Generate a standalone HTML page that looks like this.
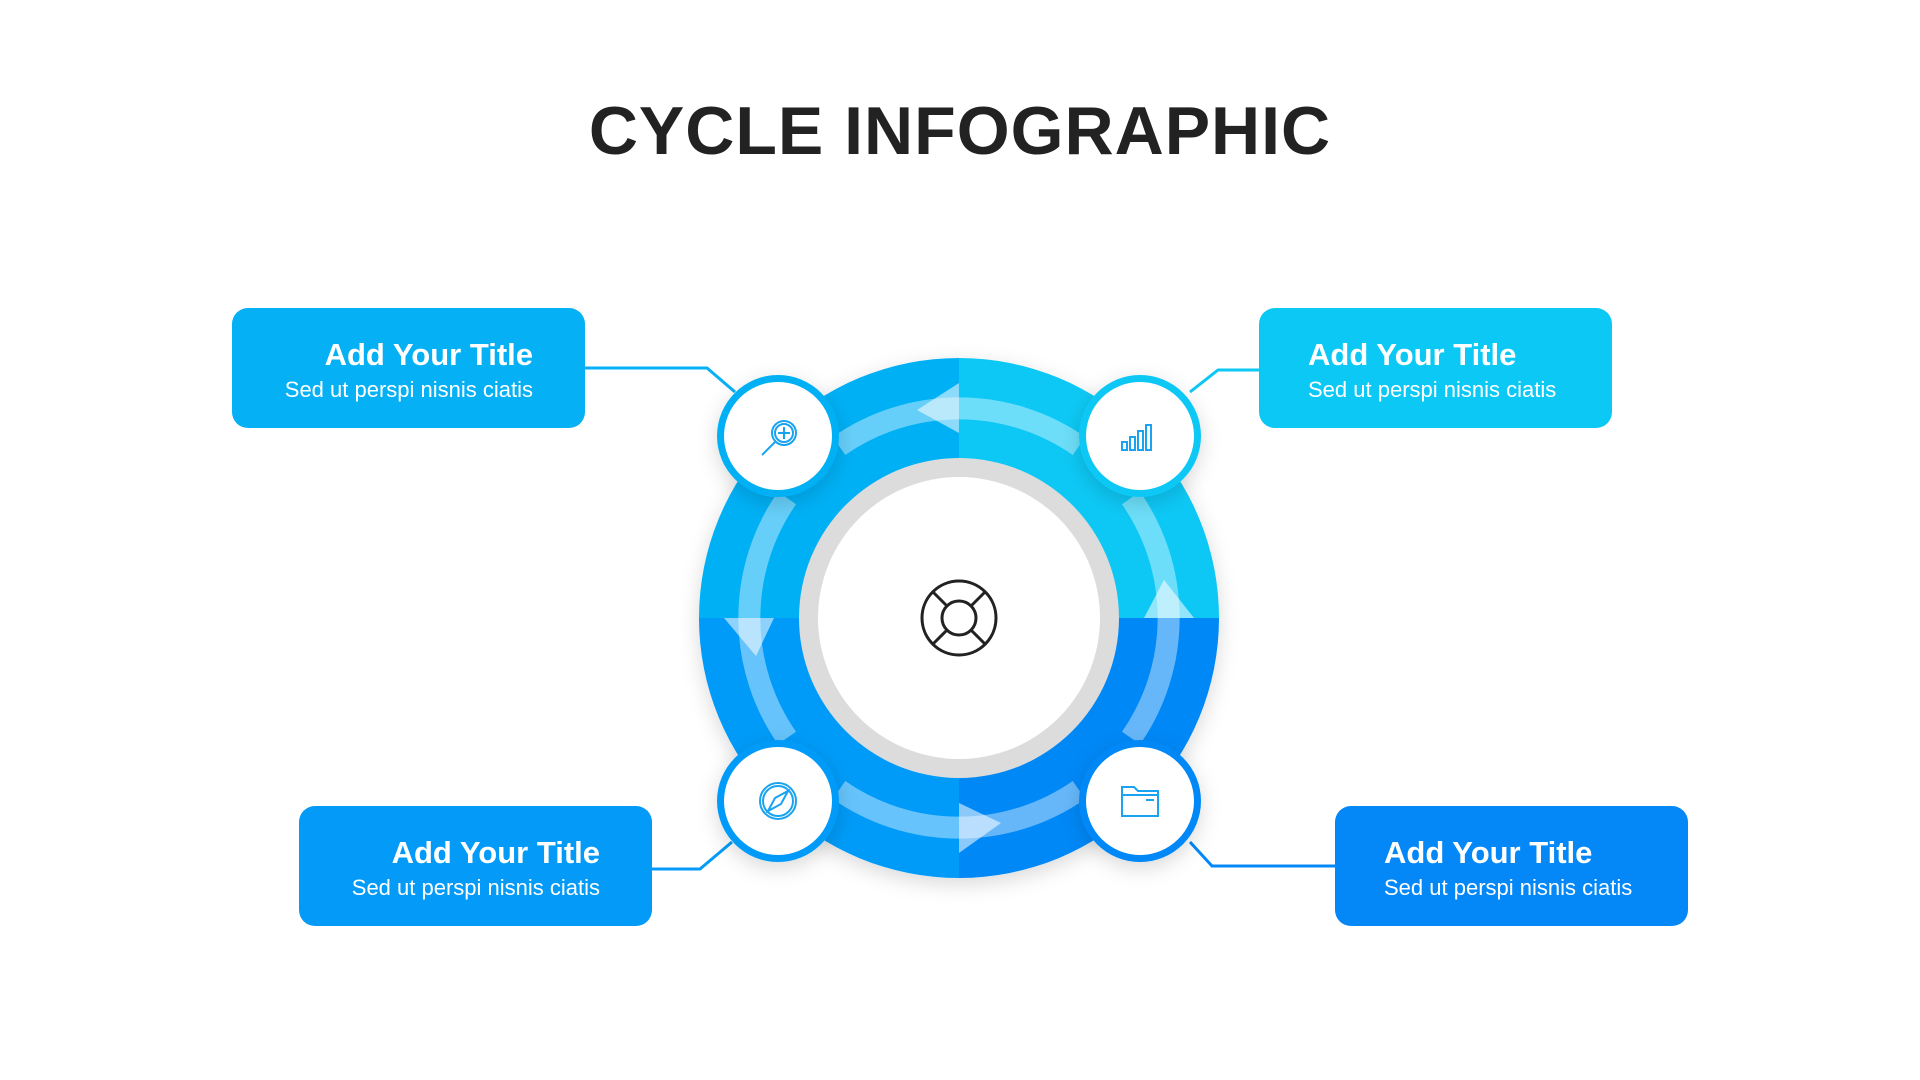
<!DOCTYPE html>
<html><head><meta charset="utf-8"><style>
body{margin:0;width:1920px;height:1080px;background:#fff;overflow:hidden;font-family:"Liberation Sans",sans-serif;position:relative}
h1{position:absolute;top:92px;left:0;width:1920px;text-align:center;margin:0;font-size:68px;font-weight:bold;color:#222;letter-spacing:1px}
.box{position:absolute;width:353px;height:120px;border-radius:16px;color:#fff}
.box b{position:absolute;top:29px;font-size:31px;white-space:nowrap}
.box span{position:absolute;top:69px;font-size:22px;white-space:nowrap}
.r b,.r span{right:52px}
.l b,.l span{left:49px}
</style></head><body>
<h1>CYCLE INFOGRAPHIC</h1>
<svg width="1920" height="1080" style="position:absolute;left:0;top:0">
<defs><filter id="sh" x="-20%" y="-20%" width="140%" height="140%"><feDropShadow dx="0" dy="6" stdDeviation="10" flood-color="#000" flood-opacity="0.15"/></filter></defs>
<g fill="none" stroke-width="3">
<polyline points="585,368 707,368 735,392" stroke="#05b0f5"/>
<polyline points="1190,392 1218,370 1259,370" stroke="#0cc8f5"/>
<polyline points="651,869 700,869 732,842" stroke="#049bf8"/>
<polyline points="1190,842 1212,866 1335,866" stroke="#0488f7"/>
</g>
<g filter="url(#sh)">
<path d="M959,618 L959,358 A260,260 0 0 0 699,618 Z" fill="#05b0f5"/>
<path d="M959,618 L1219,618 A260,260 0 0 0 959,358 Z" fill="#0cc8f5"/>
<path d="M959,618 L699,618 A260,260 0 0 0 959,878 Z" fill="#049bf8"/>
<path d="M959,618 L959,878 A260,260 0 0 0 1219,618 Z" fill="#0488f7"/>
</g>
<g fill="none" stroke="rgba(255,255,255,0.4)" stroke-width="22">
<path d="M1079,446 A210,210 0 0 0 839,446"/>
<path d="M787,498 A210,210 0 0 0 787,738"/>
<path d="M839,790 A210,210 0 0 0 1079,790"/>
<path d="M1131,738 A210,210 0 0 0 1131,498"/>
</g>
<g fill="rgba(255,255,255,0.55)">
<polygon points="959,383 959,433 917,410"/>
<polygon points="724,618 774,618 756,656"/>
<polygon points="959,803 959,853 1001,823"/>
<polygon points="1144,618 1194,618 1164,580"/>
</g>
<circle cx="959" cy="618" r="160" fill="#dcdcdc"/>
<circle cx="959" cy="618" r="141" fill="#fff"/>
<g fill="none" stroke="#222" stroke-width="3">
<circle cx="959" cy="618" r="37"/><circle cx="959" cy="618" r="17"/>
<line x1="947" y1="606" x2="933" y2="592"/><line x1="971" y1="606" x2="985" y2="592"/>
<line x1="947" y1="630" x2="933" y2="644"/><line x1="971" y1="630" x2="985" y2="644"/>
</g>
<g filter="url(#sh)">
<circle cx="778" cy="436" r="61" fill="#05b0f5"/>
<circle cx="1140" cy="436" r="61" fill="#0cc8f5"/>
<circle cx="778" cy="801" r="61" fill="#049bf8"/>
<circle cx="1140" cy="801" r="61" fill="#0488f7"/>
</g>
<g fill="#fff"><circle cx="778" cy="436" r="54"/><circle cx="1140" cy="436" r="54"/><circle cx="778" cy="801" r="54"/><circle cx="1140" cy="801" r="54"/></g>
<g fill="none" stroke="#1aa3f0" stroke-width="2">
<circle cx="784" cy="433" r="12"/><circle cx="784" cy="433" r="9"/><line x1="784" y1="427" x2="784" y2="439"/><line x1="778" y1="433" x2="790" y2="433"/><line x1="776" y1="441" x2="762" y2="455"/>
<rect x="1122" y="442" width="5" height="8"/><rect x="1130" y="437" width="5" height="13"/><rect x="1138" y="431" width="5" height="19"/><rect x="1146" y="425" width="5" height="25"/>
<circle cx="778" cy="801" r="18"/><circle cx="778" cy="801" r="15"/><polygon points="788,791 781,804 768,811 775,798"/>
<path d="M1122,787 h12 l4,4 h20 v25 h-36 Z"/><line x1="1122" y1="795" x2="1158" y2="795"/><line x1="1146" y1="800" x2="1154" y2="800"/>
</g>
</svg>
<div class="box r" style="left:232px;top:308px;background:#05b0f5"><b>Add Your Title</b><span>Sed ut perspi nisnis ciatis</span></div>
<div class="box l" style="left:1259px;top:308px;background:#0cc8f5"><b>Add Your Title</b><span>Sed ut perspi nisnis ciatis</span></div>
<div class="box r" style="left:299px;top:806px;background:#049bf8"><b>Add Your Title</b><span>Sed ut perspi nisnis ciatis</span></div>
<div class="box l" style="left:1335px;top:806px;background:#0488f7"><b>Add Your Title</b><span>Sed ut perspi nisnis ciatis</span></div>
</body></html>
